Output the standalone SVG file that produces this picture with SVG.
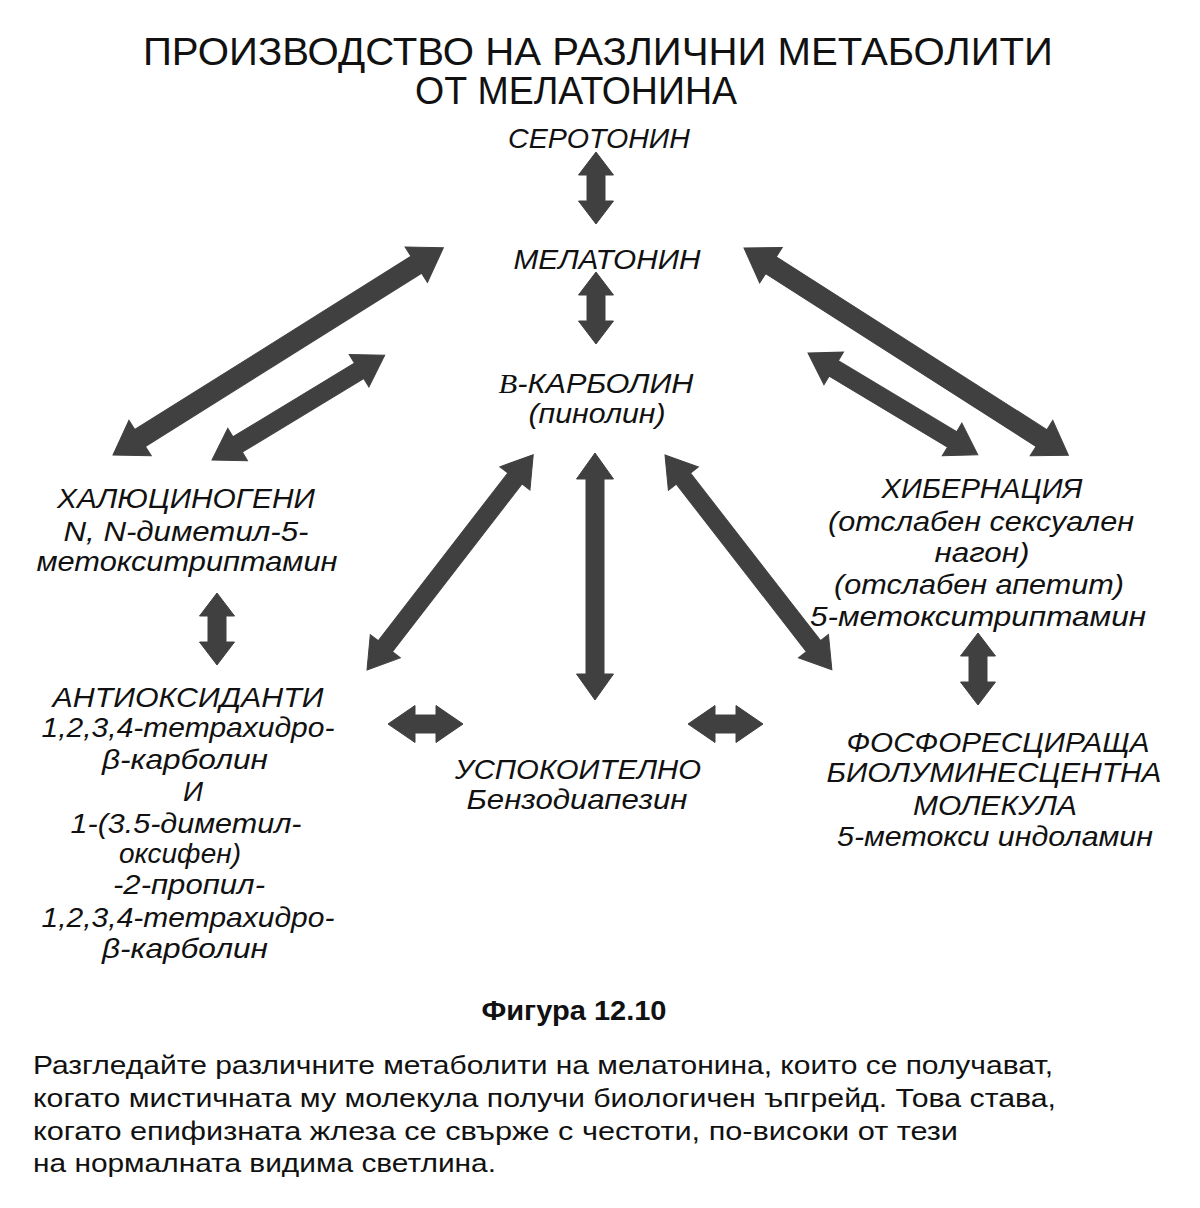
<svg xmlns="http://www.w3.org/2000/svg" xmlns:xlink="http://www.w3.org/1999/xlink" width="1200" height="1208" viewBox="0 0 1200 1208">
<style>
text{font-family:"Liberation Sans","Arial",sans-serif;fill:#111;text-anchor:middle}
.title{font-size:39px}
.n{font-size:28px;font-style:italic}
.cap{font-size:27px;font-weight:bold}
.p{font-size:25px;text-anchor:start}
.ser{font-family:"Liberation Serif","Times New Roman",serif;font-style:italic}
.arr{fill:#404040;stroke:#404040;stroke-width:1;stroke-linejoin:miter}
</style>
<defs>
<path id="a72" d="M0,0 L23,-17.5 L23,-9 L49,-9 L49,-17.5 L72,0 L49,17.5 L49,9 L23,9 L23,17.5 Z"/>
<path id="a75" d="M0,0 L27,-18.5 L27,-9 L48,-9 L48,-18.5 L75,0 L48,18.5 L48,9 L27,9 L27,18.5 Z"/>
</defs>
<rect width="1200" height="1208" fill="#fff"/>

<g id="title">
<text class="title" x="598" y="65" textLength="910" lengthAdjust="spacingAndGlyphs">ПРОИЗВОДСТВО НА РАЗЛИЧНИ МЕТАБОЛИТИ</text>
<text class="title" x="576" y="104" textLength="322" lengthAdjust="spacingAndGlyphs">ОТ МЕЛАТОНИНА</text>
</g>

<g id="connectors" class="arr">
<use xlink:href="#a72" transform="translate(596,152) rotate(90)"/>
<use xlink:href="#a72" transform="translate(596,272) rotate(90)"/>
<path d="M0,0 L32,-21 L32,-10 L358,-10 L358,-21 L390,0 L358,21 L358,10 L32,10 L32,21 Z" transform="translate(113,455) rotate(-32.1)"/>
<path d="M0,0 L30,-19 L30,-9 L172,-9 L172,-19 L202,0 L172,19 L172,9 L30,9 L30,19 Z" transform="translate(212,460) rotate(-31.25)"/>
<path d="M0,0 L32,-21 L32,-10 L353,-10 L353,-21 L385,0 L353,21 L353,10 L32,10 L32,21 Z" transform="translate(744,248) rotate(32.58)"/>
<path d="M0,0 L30,-19 L30,-9 L168,-9 L168,-19 L198,0 L168,19 L168,9 L30,9 L30,19 Z" transform="translate(808,353) rotate(30.96)"/>
<path d="M0,0 L30,-19 L30,-9 L242,-9 L242,-19 L272,0 L242,19 L242,9 L30,9 L30,19 Z" transform="translate(367,670) rotate(-52.33)"/>
<path d="M0,0 L30,-19 L30,-9 L242,-9 L242,-19 L272,0 L242,19 L242,9 L30,9 L30,19 Z" transform="translate(665,455) rotate(52.16)"/>
<path d="M0,0 L26,-18.5 L26,-9 L221,-9 L221,-18.5 L247,0 L221,18.5 L221,9 L26,9 L26,18.5 Z" transform="translate(595,453) rotate(90)"/>
<use xlink:href="#a72" transform="translate(217,593) rotate(90)"/>
<use xlink:href="#a72" transform="translate(978,633) rotate(90)"/>
<use xlink:href="#a75" transform="translate(388,724)"/>
<use xlink:href="#a75" transform="translate(688,724)"/>
</g>

<g id="serotonin">
<text class="n" x="599" y="148" textLength="182" lengthAdjust="spacingAndGlyphs">СЕРОТОНИН</text>
</g>
<g id="melatonin">
<text class="n" x="607" y="269" textLength="187" lengthAdjust="spacingAndGlyphs">МЕЛАТОНИН</text>
</g>
<g id="carbolin">
<text class="n" x="596" y="393" textLength="195" lengthAdjust="spacingAndGlyphs"><tspan class="ser">B</tspan>-КАРБОЛИН</text>
<text class="n" x="597" y="423" textLength="137" lengthAdjust="spacingAndGlyphs">(пинолин)</text>
</g>
<g id="hallucinogens">
<text class="n" x="186" y="508" textLength="258" lengthAdjust="spacingAndGlyphs">ХАЛЮЦИНОГЕНИ</text>
<text class="n" x="186" y="541" textLength="245" lengthAdjust="spacingAndGlyphs">N, N-диметил-5-</text>
<text class="n" x="187" y="571" textLength="301" lengthAdjust="spacingAndGlyphs">метокситриптамин</text>
</g>
<g id="antioxidants">
<text class="n" x="188" y="707" textLength="271" lengthAdjust="spacingAndGlyphs">АНТИОКСИДАНТИ</text>
<text class="n" x="188" y="737" textLength="293" lengthAdjust="spacingAndGlyphs">1,2,3,4-тетрахидро-</text>
<text class="n" x="185" y="769" textLength="166" lengthAdjust="spacingAndGlyphs">β-карболин</text>
<text class="n" x="193" y="801">И</text>
<text class="n" x="186" y="833" textLength="231" lengthAdjust="spacingAndGlyphs">1-(3.5-диметил-</text>
<text class="n" x="180" y="863">оксифен)</text>
<text class="n" x="189" y="894" textLength="152" lengthAdjust="spacingAndGlyphs">-2-пропил-</text>
<text class="n" x="188" y="927" textLength="293" lengthAdjust="spacingAndGlyphs">1,2,3,4-тетрахидро-</text>
<text class="n" x="185" y="958" textLength="166" lengthAdjust="spacingAndGlyphs">β-карболин</text>
</g>
<g id="sedative">
<text class="n" x="578" y="779" textLength="246" lengthAdjust="spacingAndGlyphs">УСПОКОИТЕЛНО</text>
<text class="n" x="577" y="809" textLength="221" lengthAdjust="spacingAndGlyphs">Бензодиапезин</text>
</g>
<g id="hibernation">
<text class="n" x="982" y="498" textLength="201" lengthAdjust="spacingAndGlyphs">ХИБЕРНАЦИЯ</text>
<text class="n" x="981" y="531" textLength="306" lengthAdjust="spacingAndGlyphs">(отслабен сексуален</text>
<text class="n" x="982" y="562" textLength="95" lengthAdjust="spacingAndGlyphs">нагон)</text>
<text class="n" x="979" y="594" textLength="290" lengthAdjust="spacingAndGlyphs">(отслабен апетит)</text>
<text class="n" x="978" y="626" textLength="336" lengthAdjust="spacingAndGlyphs">5-метокситриптамин</text>
</g>
<g id="phosphorescent">
<text class="n" x="998" y="752" textLength="303" lengthAdjust="spacingAndGlyphs">ФОСФОРЕСЦИРАЩА</text>
<text class="n" x="994" y="782" textLength="335" lengthAdjust="spacingAndGlyphs">БИОЛУМИНЕСЦЕНТНА</text>
<text class="n" x="995" y="815" textLength="164" lengthAdjust="spacingAndGlyphs">МОЛЕКУЛА</text>
<text class="n" x="995" y="846" textLength="316" lengthAdjust="spacingAndGlyphs">5-метокси индоламин</text>
</g>

<g id="caption">
<text class="cap" x="574" y="1020" textLength="185" lengthAdjust="spacingAndGlyphs">Фигура 12.10</text>
<text class="p" x="33" y="1074" textLength="1020" lengthAdjust="spacingAndGlyphs">Разгледайте различните метаболити на мелатонина, които се получават,</text>
<text class="p" x="33" y="1107" textLength="1023" lengthAdjust="spacingAndGlyphs">когато мистичната му молекула получи биологичен ъпгрейд. Това става,</text>
<text class="p" x="33" y="1140" textLength="925" lengthAdjust="spacingAndGlyphs">когато епифизната жлеза се свърже с честоти, по-високи от тези</text>
<text class="p" x="33" y="1172" textLength="463" lengthAdjust="spacingAndGlyphs">на нормалната видима светлина.</text>
</g>
</svg>
